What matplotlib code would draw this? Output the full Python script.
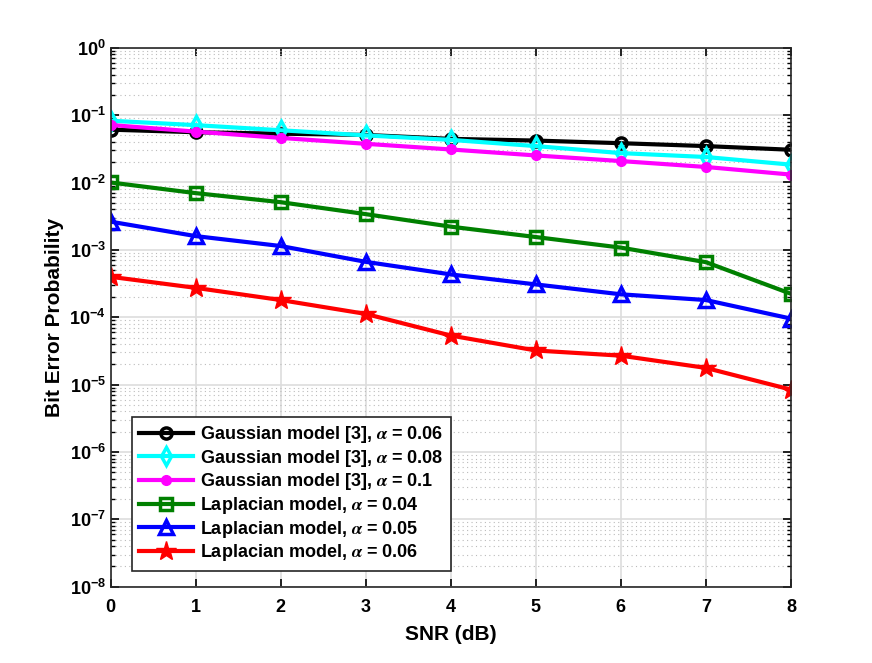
import numpy as np
import matplotlib.pyplot as plt

snr = [0, 1, 2, 3, 4, 5, 6, 7, 8]

gauss_006 = [0.0608, 0.0557, 0.053, 0.0508, 0.0444, 0.0419, 0.0383, 0.0347, 0.0306]
gauss_008 = [0.0825, 0.071, 0.0596, 0.05, 0.0429, 0.0347, 0.0273, 0.0239, 0.0184]
gauss_01 = [0.0713, 0.0569, 0.0459, 0.0375, 0.0309, 0.0252, 0.0208, 0.017, 0.0131]
lap_004 = [0.01, 0.00695, 0.0051, 0.00339, 0.00221, 0.00155, 0.00108, 0.000657, 0.000223]
lap_005 = [0.00262, 0.0016, 0.00114, 0.000664, 0.000432, 0.000307, 0.000219, 0.00018, 0.0000955]
lap_006 = [0.000398, 0.000273, 0.00018, 0.000112, 0.0000535, 0.0000321, 0.0000269, 0.0000177, 0.00000843]

plt.rcParams['font.family'] = ['Liberation Sans', 'DejaVu Sans']
plt.rcParams['font.weight'] = 'bold'
plt.rcParams['mathtext.fontset'] = 'stix'

fig = plt.figure(figsize=(8.72, 6.63), dpi=100)
ax = fig.add_axes([0.127, 0.115, 0.78, 0.813])

ax.plot(snr, gauss_006, color='black', lw=3, marker='o', ms=8, mfc='none', mew=2.5,
        label=r'Gaussian model [3], $\alpha$ = 0.06')
ax.plot(snr, gauss_008, color='cyan', lw=3, marker='d', ms=9, mfc='none', mew=2.5,
        label=r'Gaussian model [3], $\alpha$ = 0.08')
ax.plot(snr, gauss_01, color='magenta', lw=3, marker='o', ms=7,
        label=r'Gaussian model [3], $\alpha$ = 0.1')
ax.plot(snr, lap_004, color='green', lw=3, marker='s', ms=8, mfc='none', mew=2.5,
        label=r'Laplacian model, $\alpha$ = 0.04')
ax.plot(snr, lap_005, color='blue', lw=3, marker='^', ms=10, mfc='none', mew=2.5,
        label=r'Laplacian model, $\alpha$ = 0.05')
ax.plot(snr, lap_006, color='red', lw=3, marker='*', ms=15,
        label=r'Laplacian model, $\alpha$ = 0.06')

ax.set_yscale('log')
ax.set_xlim(0, 8)
ax.set_ylim(1e-8, 1)
ax.set_xticks(snr)
ax.set_yticks([10.0**k for k in range(-8, 1)])
ax.grid(True, which='major', color='#dddddd', lw=1.2)
ax.grid(True, which='minor', axis='y', color='#bbbbbb', linestyle=(0, (1, 3)), lw=0.8)
ax.tick_params(which='both', direction='in', top=True, right=True, labelsize=13)
ax.tick_params(axis='x', which='major', pad=9)
ax.tick_params(which='major', length=6, width=1.2)
ax.tick_params(which='minor', length=3, width=1)
for s in ax.spines.values():
    s.set_linewidth(1.2)
    s.set_color('#262626')
for lbl in ax.get_xticklabels() + ax.get_yticklabels():
    lbl.set_fontweight('bold')

ax.set_xlabel('SNR (dB)', fontsize=15, fontweight='bold', labelpad=6)
ax.set_ylabel('Bit Error Probability', fontsize=15, fontweight='bold')

leg = ax.legend(loc='lower left', bbox_to_anchor=(0.031, 0.03), borderaxespad=0,
                prop={'weight': 'bold', 'size': 13}, fancybox=False, framealpha=1,
                edgecolor='#262626', handlelength=3, labelspacing=0.15,
                borderpad=0.4, handletextpad=0.4)
leg.get_frame().set_linewidth(1.2)

plt.savefig('out.png', dpi=100)
